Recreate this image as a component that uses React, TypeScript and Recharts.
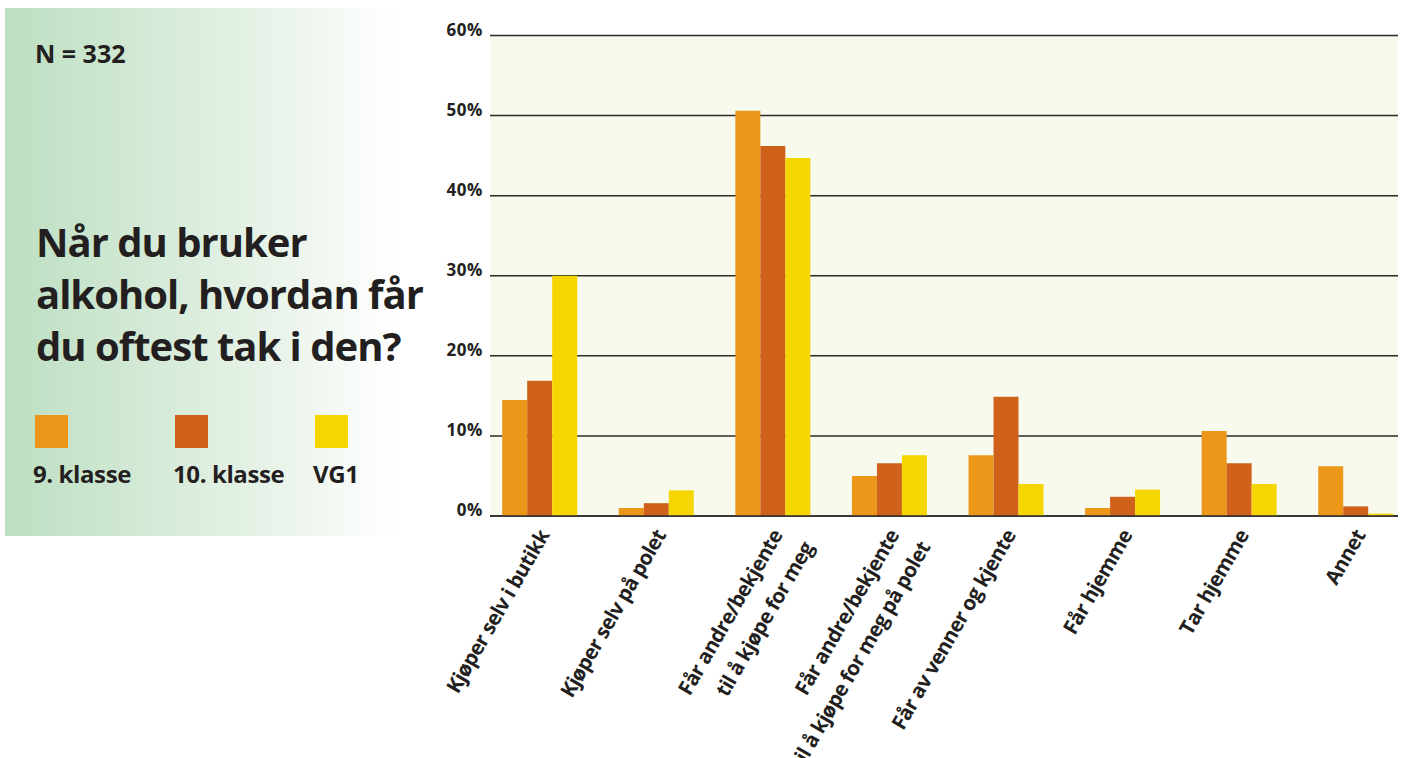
import React from 'react';
import { BarChart, Bar, XAxis, YAxis, CartesianGrid } from 'recharts';

// survey answers, share of respondents in percent
const categories = [
  'Kjøper selv i butikk',
  'Kjøper selv på polet',
  'Får andre/bekjente\ntil å kjøpe for meg',
  'Får andre/bekjente\ntil å kjøpe for meg på polet',
  'Får av venner og kjente',
  'Får hjemme',
  'Tar hjemme',
  'Annet',
];
const klasse9 = [14.5, 1.0, 50.6, 5.0, 7.6, 1.0, 10.6, 6.2];
const klasse10 = [16.9, 1.6, 46.2, 6.6, 14.9, 2.4, 6.6, 1.2];
const vg1 = [30.0, 3.2, 44.7, 7.6, 4.0, 3.3, 4.0, 0.3];
const yTicks = [0, 10, 20, 30, 40, 50, 60];
const seriesNames = ['9. klasse', '10. klasse', 'VG1'];
const sampleSize = 332;
const titleLines = ['Når du bruker', 'alkohol, hvordan får', 'du oftest tak i den?'];

const COLORS = ['#ec971a', '#cf611a', '#f5d600'];
const INK = '#231f20';
const FONT = '"Open Sans", "DejaVu Sans", sans-serif';

const seriesKeys = ['k9', 'k10', 'vg1'];
const chartData = categories.map((name, i) => ({
  name,
  k9: klasse9[i],
  k10: klasse10[i],
  vg1: vg1[i],
}));

function XTick({ x, y, payload }: any) {
  const lines = String(payload.value).split('\n');
  return (
    <g transform={`translate(${x - 1.5},${y})`}>
      <text
        transform="rotate(-60)"
        textAnchor="end"
        fill={INK}
        fontSize={20.5}
        fontWeight={700}
        fontFamily={FONT}
        letterSpacing={-0.6}
      >
        {lines.map((line, i) => (
          <tspan key={i} x={i === 0 ? 0 : 5} dy={i === 0 ? 14 : 33}>
            {line}
          </tspan>
        ))}
      </text>
    </g>
  );
}

function YTick({ x, y, payload }: any) {
  return (
    <text
      x={x}
      y={y}
      textAnchor="end"
      fill={INK}
      fontSize={17}
      fontWeight={700}
      fontFamily={FONT}
      letterSpacing={0.6}
    >
      {`${payload.value}%`}
    </text>
  );
}

function SidePanel() {
  const legendX = [35, 175, 315];
  return (
    <div
      style={{
        position: 'absolute',
        left: 5,
        top: 8,
        width: 392,
        height: 528,
        background:
          'linear-gradient(90deg, #bcdfc1 0%, #d3e9d6 35%, #e6f2e7 65%, #ffffff 100%)',
      }}
    >
      <svg width={440} height={528} style={{ position: 'absolute', left: -5, top: -8, overflow: 'visible' }}>
        <text x={35} y={63} fill={INK} fontSize={25} fontWeight={700} fontFamily={FONT}>
          {`N = ${sampleSize}`}
        </text>
        {titleLines.map((line, i) => (
          <text
            key={line}
            x={36}
            y={257 + i * 52}
            fill={INK}
            fontSize={40}
            fontWeight={700}
            fontFamily={FONT}
            letterSpacing={-1}
          >
            {line}
          </text>
        ))}
        {seriesNames.map((name, i) => (
          <g key={name}>
            <rect x={legendX[i]} y={415} width={33} height={33} fill={COLORS[i]} />
            <text
              x={legendX[i] - 2}
              y={483}
              fill={INK}
              fontSize={24}
              fontWeight={700}
              fontFamily={FONT}
              letterSpacing={-0.4}
            >
              {name}
            </text>
          </g>
        ))}
      </svg>
    </div>
  );
}

export default function App() {
  return (
    <div style={{ position: 'absolute', left: 0, top: 0, width: 1405, height: 758, background: '#fff', overflow: 'hidden' }}>
      <SidePanel />
      <div style={{ position: 'absolute', left: 0, top: 0 }}>
        <BarChart
          width={1405}
          height={758}
          data={chartData}
          margin={{ top: 35.5, right: 7, bottom: 0, left: 0 }}
          barGap={0}
          barSize={25}
        >
          <CartesianGrid
            horizontal
            vertical={false}
            stroke="#2b2b2b"
            strokeWidth={1.5}
            fill="#f8faee"
            fillOpacity={1}
          />
          <XAxis
            dataKey="name"
            interval={0}
            height={242}
            tickLine={false}
            tickSize={0}
            tickMargin={12}
            axisLine={{ stroke: '#2b2b2b', strokeWidth: 1.5 }}
            padding={{ left: -8.8, right: -15.8 }}
            tick={(props: any) => <XTick {...props} />}
          />
          <YAxis
            width={490}
            domain={[0, 60]}
            ticks={yTicks}
            interval={0}
            axisLine={false}
            tickLine={false}
            tickSize={0}
            tickMargin={7}
            tick={(props: any) => <YTick {...props} />}
          />
          {seriesKeys.map((key, i) => (
            <Bar
              key={key}
              dataKey={key}
              name={seriesNames[i]}
              fill={COLORS[i]}
              isAnimationActive={false}
            />
          ))}
        </BarChart>
      </div>
    </div>
  );
}
